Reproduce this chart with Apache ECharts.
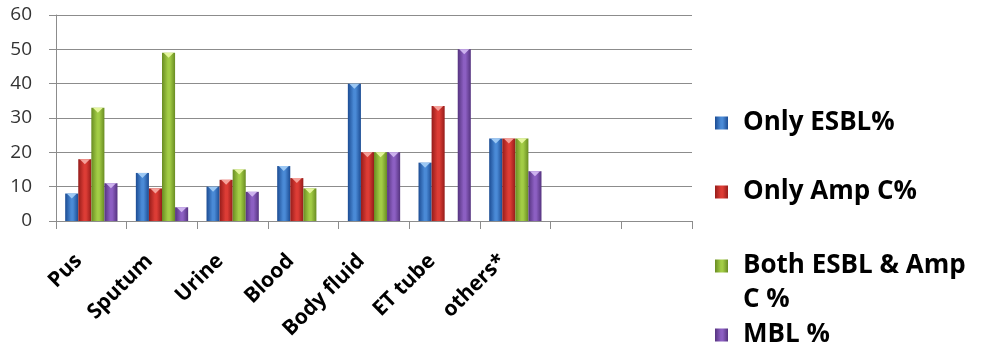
<!DOCTYPE html>
<html>
<head>
<meta charset="utf-8">
<script src="https://cdn.jsdelivr.net/npm/echarts@6/dist/echarts.min.js"></script>
<style>
  html, body { margin: 0; padding: 0; background: #fff; }
  #chart { width: 983px; height: 346px; }
</style>
</head>
<body>
<div id="chart"></div>
<script>
// Specimen categories (two trailing empty slots keep the plot width)
const categories = ['Pus', 'Sputum', 'Urine', 'Blood', 'Body fluid', 'ET tube', 'others*', '', ''];

// Percentages per specimen type
const onlyEsbl     = [8, 14, 10, 16, 40, 17, 24, null, null];
const onlyAmpC     = [18, 9.5, 12, 12.5, 20, 33.5, 24, null, null];
const bothEsblAmpC = [33, 49, 15, 9.5, 20, 0, 24, null, null];
const mbl          = [11, 4, 8.5, 0, 20, 50, 14.5, null, null];

const seriesNames = ['Only ESBL%', 'Only Amp C%', 'Both ESBL & Amp C %', 'MBL %'];
const yTicks = { min: 0, max: 60, interval: 10 };

// edge colour, centre colour, highlight for the bevel cap
const palette = [
  ['#1c4c93', '#4a8ad6', '#9cc8f4'],
  ['#961c1a', '#dc3c35', '#f5a19a'],
  ['#698c22', '#a2cc45', '#e4f59c'],
  ['#55337f', '#8c5fc2', '#cdb2ee']
];

function shade(p) {
  return new echarts.graphic.LinearGradient(0, 0, 1, 0, [
    { offset: 0, color: p[0] },
    { offset: 0.45, color: p[1] },
    { offset: 0.6, color: p[1] },
    { offset: 1, color: p[0] }
  ]);
}

const values = [onlyEsbl, onlyAmpC, bothEsblAmpC, mbl];
const barGap = '0%';
const barCategoryGap = '26%';

const series = [];
values.forEach((vals, i) => {
  series.push({
    name: seriesNames[i],
    type: 'bar',
    data: vals,
    barGap: barGap,
    barCategoryGap: barCategoryGap,
    itemStyle: { color: shade(palette[i]) }
  });
});
// small bevel caps on top of each bar
values.forEach((vals, i) => {
  series.push({
    name: seriesNames[i] + ' cap',
    type: 'pictorialBar',
    data: vals.map(v => (v ? v : '-')),
    barGap: barGap,
    barCategoryGap: barCategoryGap,
    symbol: 'path://M0,0 L12,0 L6,6 Z',
    symbolSize: [10, 5],
    symbolPosition: 'end',
    symbolOffset: [0, 0],
    itemStyle: { color: palette[i][2] },
    silent: true,
    z: 3
  });
});

const fontFamily = 'Open Sans, Liberation Sans, sans-serif';

function legendAt(name, top, label) {
  return {
    data: [name],
    orient: 'vertical',
    left: 710,
    top: top,
    icon: 'rect',
    itemWidth: 13,
    itemHeight: 13,
    itemGap: 0,
    formatter: () => label,
    textStyle: { fontFamily: fontFamily, fontWeight: 'bold', fontSize: 26, color: '#000', padding: [0, 0, 0, 10] },
    selectedMode: false
  };
}

const option = {
  animation: false,
  grid: { left: 56, right: 291, top: 15, bottom: 125, containLabel: false },
  legend: [
    legendAt(seriesNames[0], 105, 'Only ESBL%'),
    legendAt(seriesNames[1], 174, 'Only Amp C%'),
    legendAt(seriesNames[2], 248, 'Both ESBL & Amp'),
    legendAt(seriesNames[3], 317, 'MBL %')
  ],
  graphic: [{
    type: 'text',
    left: 743,
    top: 287,
    style: { text: 'C %', font: 'bold 26px ' + fontFamily, fill: '#000' }
  }],
  xAxis: {
    type: 'category',
    data: categories,
    axisLine: { lineStyle: { color: '#8c8c8c', width: 1 } },
    axisTick: { show: true, length: 8, lineStyle: { color: '#8c8c8c' } },
    axisLabel: {
      interval: 0,
      rotate: 45,
      margin: 24,
      padding: [0, 18, 0, 0],
      fontFamily: fontFamily,
      fontWeight: 'bold',
      fontSize: 21,
      color: '#000'
    }
  },
  yAxis: {
    type: 'value',
    min: yTicks.min,
    max: yTicks.max,
    interval: yTicks.interval,
    axisLine: { show: true, lineStyle: { color: '#8c8c8c' } },
    axisTick: { show: true, length: 7, lineStyle: { color: '#8c8c8c' } },
    axisLabel: { margin: 24, fontFamily: fontFamily, fontSize: 19, color: '#333' },
    splitLine: { lineStyle: { color: '#8c8c8c', width: 1 } }
  },
  series: series
};

echarts.init(document.getElementById('chart'), null, { renderer: 'canvas' }).setOption(option);
</script>
</body>
</html>
